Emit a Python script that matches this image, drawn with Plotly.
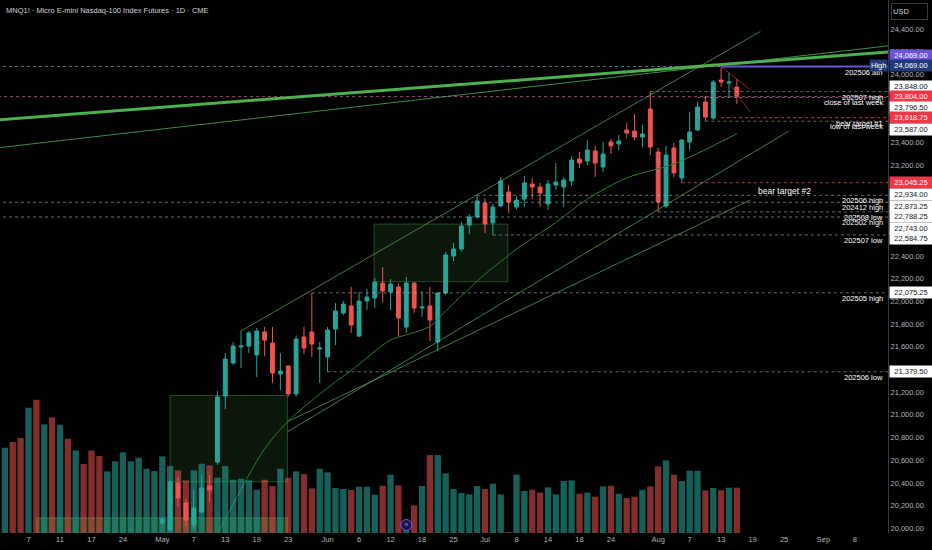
import plotly.graph_objects as go

# x = trading-day slot, 0 = 2 Apr 2025 (holidays skipped), empty slots run on to the right
tick_index = [3, 7, 11, 15, 20, 24, 28, 32, 36, 41, 45, 49, 53, 57, 61, 65, 69, 73, 77, 83, 87, 91, 95, 99, 104, 108]
tick_text = ["7", "11", "17", "24", "May", "7", "13", "19", "23", "Jun", "6", "12", "18", "25",
             "Jul", "8", "14", "18", "24", "Aug", "7", "13", "19", "25", "Sep", "8"]
# price scale ticks (those hidden behind price tags are left out, as on the chart)
price_ticks = [20000, 20200, 20400, 20600, 20800, 21000, 21200, 21600, 21800, 22000,
               22200, 22400, 23200, 23400, 24000, 24200, 24400]

# volume, thousands of contracts (2 Apr .. 15 Aug)
volume = [1280, 1365, 1425, 1880, 2000, 1630, 1735, 1625, 1415, 1240,
          1035, 1240, 1155, 925, 1075, 1210, 1075, 1130, 965, 930,
          1150, 1005, 940, 790, 940, 1040, 1015, 830, 1005, 800,
          815, 790, 650, 800, 705, 965, 830, 925, 885, 670,
          965, 910, 675, 660, 645, 695, 695, 575, 710, 875,
          715, 60, 415, 705, 1170, 1170, 895, 660, 600, 580,
          705, 660, 740, 580, 15, 875, 630, 650, 605, 685,
          580, 780, 790, 590, 605, 545, 700, 710, 590, 525,
          545, 650, 700, 1000, 1090, 875, 780, 935, 935, 640,
          675, 640, 680, 680]
# April candles sit below the visible price range, only their volume colour shows
april_up = [1, 0, 0, 1, 0, 1, 0, 1, 0, 1, 0, 0, 0, 1, 1, 1, 1, 1, 1, 1]

candle_start = 20  # 1 May
opens = [20047, 19985, 20399, 20223, 20029, 20144, 20373, 20584, 21166, 21457,
         21598, 21606, 21527, 21730, 21633, 21360, 21430, 21184, 21686, 21730,
         21580, 21510, 21756, 21897, 21959, 21694, 22003, 22029, 22161, 22082,
         22126, 21774, 22161, 21941, 21959, 21642, 22073, 22399, 22461, 22672,
         22743, 22866, 22690, 22840, 22963, 22831, 22902, 23034, 23007, 22858,
         23025, 23007, 23060, 23254, 23236, 23325, 23184, 23404, 23386, 23510,
         23501, 23448, 23695, 23316, 22840, 23351, 23087, 23404, 23510, 23756,
         23615, 23950, 23924, 23888]
highs = [20100, 20430, 20452, 20260, 20340, 20470, 20470, 21210, 21545, 21640,
         21739, 21740, 21765, 21774, 21774, 21545, 21440, 21700, 21774, 22075.25,
         21642, 21774, 21985, 22003, 22126, 22082, 22109, 22206, 22302, 22197,
         22161, 22214, 22170, 22091, 22126, 22080, 22435, 22514, 22700, 22769,
         22934, 22910, 22860, 23096, 23025, 22928, 23104, 23087, 23043, 23069,
         23219, 23096, 23280, 23316, 23421, 23369, 23404, 23430, 23465, 23571,
         23651, 23554, 23848, 23351, 23369, 23395, 23430, 23668, 23756, 23809,
         23950, 24069, 24012, 23959]
lows = [20030, 19975, 20188, 20020, 19990, 20130, 20230, 20560, 21050, 21440,
        21413, 21545, 21333, 21518, 21280, 21219, 21157, 21160, 21536, 21510,
        21280, 21379.5, 21615, 21880, 21721, 21686, 21924, 21941, 21990, 21924,
        21694, 21721, 21897, 21862, 21650, 21562, 22060, 22355, 22440, 22593,
        22730, 22600, 22584.75, 22830, 22778, 22810, 22831, 22902, 22831, 22805,
        22981, 22831, 23016, 23175, 23201, 23096, 23140, 23298, 23333, 23439,
        23421, 23360, 23289, 22788.25, 22820, 23096, 23045.25, 23330, 23500, 23587,
        23598, 23888, 23792, 23739]
closes = [20082, 20408, 20267, 20073, 20179, 20355, 20338, 21157, 21492, 21606,
          21606, 21721, 21739, 21659, 21369, 21386, 21184, 21668, 21589, 21624,
          21589, 21747, 21915, 21976, 21791, 22003, 22038, 22170, 22091, 22153,
          21853, 22161, 21941, 21950, 21835, 22073, 22408, 22461, 22664, 22743,
          22884, 22681, 22831, 23060, 22875, 22893, 23043, 23007, 22955, 23034,
          23051, 23069, 23245, 23219, 23333, 23219, 23298, 23369, 23413, 23483,
          23448, 23474, 23360, 22875, 23289, 23131, 23421, 23492, 23712, 23624,
          23932, 23932, 23932, 23804]

# 20 day average
ma_index = [27, 31, 33, 36, 42, 44, 49, 51, 54, 56, 61, 63, 65, 70, 74, 79, 82, 85, 93]
ma_value = [19950, 20470, 20700, 20945, 21290, 21390, 21659, 21705, 21780, 21915,
            22240, 22350, 22460, 22695, 22900, 23087, 23150, 23210, 23477]

# horizontal levels: price, first slot, text
level_price = [24069.00, 23848.00, 23796.50, 23618.75, 23587.00, 23045.25, 22934.00,
               22873.25, 22788.25, 22743.00, 22584.75, 22075.25, 21379.50]
level_start = [-1, 82, 88, 91, 89, 86, 60, -1, 83, -1, 62, 39, 41]
level_text = ["202506 ath", "202507 high", "close of last week", "bear target #1",
              "low of last week", "bear target #2", "202506 high", "202412 high",
              "202508 low", "202502 high", "202507 low", "202505 high", "202506 low"]
bear_levels = [23618.75, 23045.25]
last_price = 23804.00
week_high = 24069.00

# drawings (slot, price)
box_zones = [([21.0, 35.9], [20410, 21170]), ([46.9, 63.9], [22173, 22681])]
base_zone = ([4.0, 35.9], [19500, 20093])
upper_channel = ([30, 96], [21739, 24379])
lower_line_a = ([35.9, 94.7], [20940, 22893])
lower_line_b = ([35.9, 99.6], [20850, 23500])
long_line_thick = ([-1, 113], [23599, 24202])
long_line_thin = ([-1, 113], [23352, 24257])
fade_line_a = ([91, 94.7], [24069, 23862])
fade_line_b = ([92, 94.7], [23924, 23668])

X0, X1 = -0.62, 112.2
Y0, Y1 = 19959, 24655
UP, DOWN = "#26a69a", "#ef5350"
TXT = "#d1d4dc"
FONT = "Liberation Sans"

ups = april_up + [1 if c >= o else 0 for o, c in zip(opens, closes)]
vol_colors = ["rgba(38,166,154,0.58)" if u else "rgba(239,83,80,0.55)" for u in ups]

fig = go.Figure()

fig.add_trace(go.Bar(x=list(range(len(volume))), y=volume, marker_color=vol_colors,
                     marker_line_width=0, width=0.8, yaxis="y2"))

# levels
for p, s in zip(level_price, level_start):
    col = "rgba(242,54,69,0.9)" if p in bear_levels else "rgba(190,193,200,0.55)"
    fig.add_trace(go.Scatter(x=[s, X1 + 1], y=[p, p], mode="lines",
                             line=dict(color=col, width=1, dash="dot")))
fig.add_trace(go.Scatter(x=[X0 - 1, X1 + 1], y=[last_price, last_price], mode="lines",
                         line=dict(color="rgba(190,80,150,0.85)", width=1, dash="dot")))

# trend lines
for ln, col, w in [(long_line_thin, "rgba(76,175,80,0.8)", 1),
                   (long_line_thick, "#4caf50", 3),
                   (upper_channel, "rgba(102,187,106,0.65)", 1),
                   (lower_line_a, "rgba(102,187,106,0.65)", 1),
                   (lower_line_b, "rgba(102,187,106,0.65)", 1)]:
    fig.add_trace(go.Scatter(x=ln[0], y=ln[1], mode="lines", line=dict(color=col, width=w)))

fig.add_trace(go.Scatter(x=ma_index, y=ma_value, mode="lines",
                         line=dict(color="#2e7d32", width=1, shape="spline")))

fig.add_trace(go.Candlestick(
    x=list(range(candle_start, candle_start + len(opens))),
    open=opens, high=highs, low=lows, close=closes,
    increasing=dict(line=dict(color=UP, width=1), fillcolor=UP),
    decreasing=dict(line=dict(color=DOWN, width=1), fillcolor=DOWN),
))

for ln in (fade_line_a, fade_line_b):
    fig.add_trace(go.Scatter(x=ln[0], y=ln[1], mode="lines",
                             line=dict(color="rgba(200,50,60,0.7)", width=1)))

fig.add_trace(go.Scatter(x=[91, X1 + 1], y=[week_high, week_high], mode="lines",
                         line=dict(color="#6f52d9", width=2)))

# contract roll marker
fig.add_trace(go.Scatter(x=[51], y=[120], yaxis="y2", mode="markers+text", text=["»"],
                         textfont=dict(color="#8f7bff", size=8, family=FONT),
                         marker=dict(size=11, color="#1a1440", line=dict(color="#6f5cf0", width=1))))

shapes = []
for xs, ys in box_zones:
    shapes.append(dict(type="rect", xref="x", yref="y", x0=xs[0], x1=xs[1], y0=ys[0], y1=ys[1],
                       fillcolor="rgba(76,175,80,0.13)", line=dict(color="rgba(76,175,80,0.4)", width=1),
                       layer="below"))
shapes.append(dict(type="rect", xref="x", yref="y", x0=base_zone[0][0], x1=base_zone[0][1],
                   y0=base_zone[1][0], y1=base_zone[1][1], fillcolor="rgba(76,175,80,0.32)",
                   line=dict(color="rgba(76,175,80,0.4)", width=1), layer="below"))

ann = []
ann.append(dict(xref="paper", yref="paper", x=0, y=1, xanchor="left", yanchor="top", xshift=4, yshift=-4,
                text="MNQ1! · Micro E-mini Nasdaq-100 Index Futures · 1D · CME", showarrow=False,
                font=dict(color=TXT, size=7.5, family=FONT)))
ann.append(dict(xref="paper", yref="paper", x=1, y=1, xanchor="left", yanchor="top", xshift=3, yshift=-3,
                text="USD", showarrow=False, width=33, height=13, align="left",
                bordercolor="#3a3d45", borderwidth=1, borderpad=1, bgcolor="#000000",
                font=dict(color=TXT, size=7.5, family=FONT)))

# texts under the level lines
for p, s, t in zip(level_price, level_start, level_text):
    if t == "bear target #2":
        ann.append(dict(xref="x", yref="y", x=(s + X1) / 2, y=p, xanchor="center", yanchor="top",
                        yshift=-1, text=t, showarrow=False, font=dict(color="#ffffff", size=8.5, family=FONT)))
    else:
        ann.append(dict(xref="paper", yref="y", x=1, y=p, xanchor="right", yanchor="top",
                        xshift=-3, yshift=1, text=t, showarrow=False,
                        font=dict(color="#ffffff", size=7.5, family=FONT)))

# price tags on the scale: price, background, text colour, shift to dodge neighbours
axis_tags = [(24069.00, "#6f52d9", "#ffffff", 11.5), (23848.00, "#ffffff", "#131722", 5.5),
             (23804.00, "#f23645", "#ffffff", 0), (23796.50, "#ffffff", "#131722", -10.5),
             (23618.75, "#f23645", "#ffffff", 0), (23587.00, "#ffffff", "#131722", -8),
             (23045.25, "#f23645", "#ffffff", 0), (22934.00, "#ffffff", "#131722", 1),
             (22873.25, "#ffffff", "#131722", -4), (22788.25, "#ffffff", "#131722", -5),
             (22743.00, "#ffffff", "#131722", -11), (22584.75, "#ffffff", "#131722", -4),
             (22075.25, "#ffffff", "#131722", 0), (21379.50, "#ffffff", "#131722", 0)]
for p, bg, fg, sh in axis_tags:
    ann.append(dict(xref="paper", yref="y", x=1, y=p, xanchor="left", yanchor="middle", xshift=1, yshift=sh,
                    text=f"{p:,.2f}", showarrow=False, width=40, height=9, bgcolor=bg, borderpad=1,
                    font=dict(color=fg, size=7.5, family=FONT)))
ann.append(dict(xref="paper", yref="y", x=1, y=week_high, xanchor="left", yanchor="middle", xshift=1, yshift=1.5,
                text=f"{week_high:,.2f}", showarrow=False, width=40, height=9, bgcolor="#213a7a", borderpad=1,
                font=dict(color="#ffffff", size=7.5, family=FONT)))
ann.append(dict(xref="paper", yref="y", x=1, y=week_high, xanchor="right", yanchor="middle", xshift=0, yshift=1.5,
                text="High", showarrow=False, height=9, bgcolor="#213a7a", borderpad=1,
                font=dict(color="#ffffff", size=7.5, family=FONT)))

fig.update_layout(
    width=932, height=550,
    margin=dict(l=0, r=44, t=0, b=17, pad=0),
    paper_bgcolor="#000000", plot_bgcolor="#000000",
    showlegend=False, hovermode=False, boxgap=0.3,
    shapes=shapes, annotations=ann,
    xaxis=dict(range=[X0, X1], tickvals=tick_index, ticktext=tick_text, showgrid=False, zeroline=False,
               ticks="", rangeslider=dict(visible=False), tickfont=dict(color="#b2b5be", size=7.5, family=FONT)),
    yaxis=dict(side="right", range=[Y0, Y1], tickvals=price_ticks,
               ticktext=[f"{v:,.2f}" for v in price_ticks], showgrid=False, zeroline=False,
               ticks="", showline=True, linecolor="#363a45", linewidth=1,
               tickfont=dict(color="#b2b5be", size=7.5, family=FONT)),
    yaxis2=dict(overlaying="y", range=[0, 8000], visible=False),
)

fig.write_html("out.html", config={"displayModeBar": False},
               post_script="document.body.style.margin='0';document.body.style.background='#000';")
